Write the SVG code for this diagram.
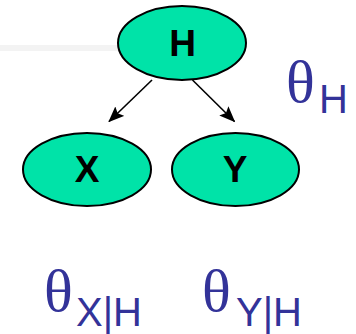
<svg xmlns="http://www.w3.org/2000/svg" width="356" height="334" viewBox="0 0 356 334">
<style>
.node{fill:#00e3a8;stroke:#000;stroke-width:2}
.lbl{font-family:"Liberation Sans",Arial,sans-serif;font-weight:bold;font-size:37px;fill:#000;text-anchor:middle}
.th{font-family:"Liberation Serif","Times New Roman",serif;font-size:60px;fill:#333399}
.sub{font-family:"Liberation Sans",Arial,sans-serif;font-size:40px;fill:#333399}
.edge{stroke:#000;stroke-width:1.6;fill:none;marker-end:url(#ah)}
</style>
<defs>
<marker id="ah" viewBox="0 0 16 13" refX="15" refY="6.5" markerWidth="16" markerHeight="13" orient="auto" markerUnits="userSpaceOnUse">
<path d="M0,0 L16,6.5 L0,13 L3,6.5 z" fill="#000"/>
</marker>
</defs>
<rect x="0" y="45" width="118" height="6" fill="#f3f3f3"/>
<g id="connectors">
<line class="edge" x1="152" y1="80" x2="109" y2="121.5"/>
<line class="edge" x1="192.5" y1="80" x2="234.5" y2="121.5"/>
</g>
<g id="node-H">
<ellipse class="node" cx="182" cy="43" rx="64" ry="37"/>
<text class="lbl" x="182.5" y="56">H</text>
</g>
<g id="node-X">
<ellipse class="node" cx="87" cy="169.5" rx="64" ry="36.5"/>
<text class="lbl" x="87" y="181.7">X</text>
</g>
<g id="node-Y">
<ellipse class="node" cx="235.5" cy="169.5" rx="63.5" ry="36.5"/>
<text class="lbl" x="235" y="181.7">Y</text>
</g>
<g id="param-H">
<text class="th" x="286" y="102">θ</text>
<text class="sub" x="319" y="113">H</text>
</g>
<g id="param-X">
<text class="th" x="44" y="311">θ</text>
<text class="sub" x="76" y="325.5">X|H</text>
</g>
<g id="param-Y">
<text class="th" x="202" y="311">θ</text>
<text class="sub" x="236" y="325.5">Y|H</text>
</g>
</svg>
